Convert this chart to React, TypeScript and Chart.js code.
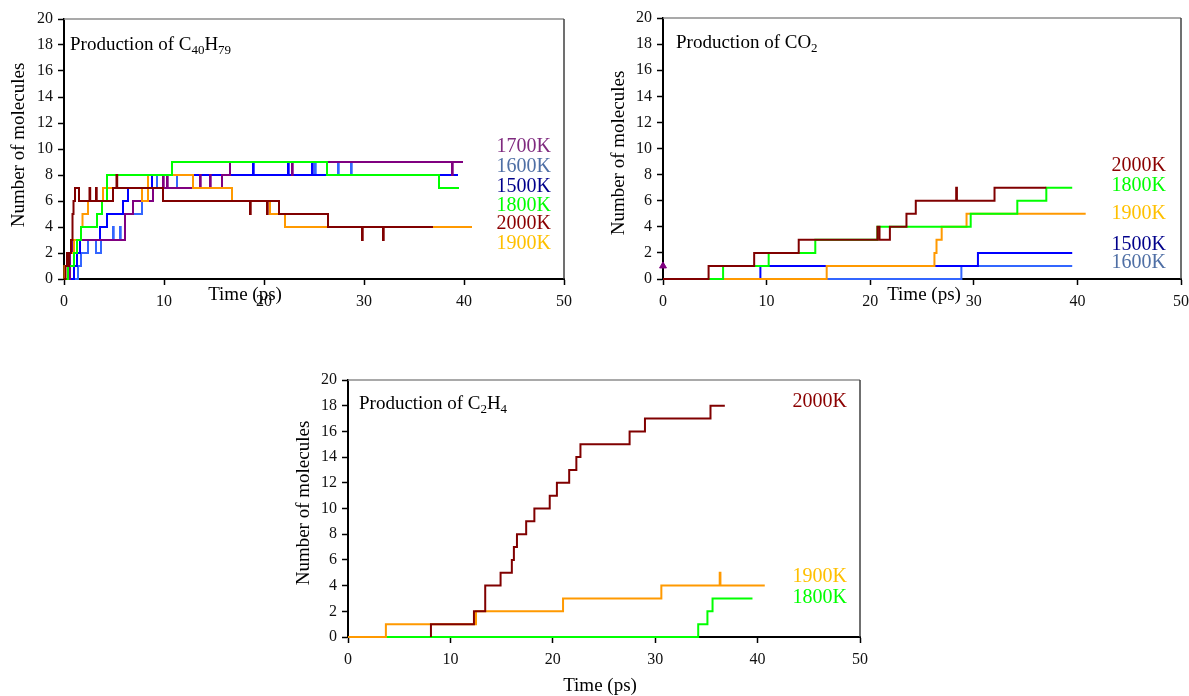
import { useEffect, useRef } from 'react';
import { Chart, registerables } from 'chart.js';

Chart.register(...registerables);

const W = 1189;
const H = 696;
const CW = 1260; // canvas width (wider than the page so right-hand padding never squeezes the plot)
const SERIF = '"Liberation Serif", "Times New Roman", Times, serif';

// ---------- tick labels ----------
const X_TICKS = [0, 10, 20, 30, 40, 50];
const Y_TICKS = [0, 2, 4, 6, 8, 10, 12, 14, 16, 18, 20];

// ---------- Panel 1: Production of C40H79 (time in ps, number of molecules) ----------
const c40_2000K_t = [0, 0.15, 0.3, 0.35, 0.5, 0.7, 0.85, 0.95, 1.1, 1.5, 2.55, 2.62, 3.2, 3.27, 4.9, 5.25, 5.32, 9.9, 18.6, 18.67, 20.3, 20.37, 21.5, 26.4, 29.8, 29.87, 31.9, 31.97, 36.9];
const c40_2000K_n = [0, 1, 2, 1, 2, 3, 5, 6, 7, 6, 7, 6, 7, 6, 7, 8, 7, 6, 5, 6, 5, 6, 5, 4, 3, 4, 3, 4, 4];
const c40_1800K_t = [0, 0.4, 1.0, 1.3, 1.7, 3.3, 3.8, 4.3, 10.8, 26.3, 37.5, 39.5];
const c40_1800K_n = [0, 1, 2, 3, 4, 5, 6, 8, 9, 8, 7, 7];
const c40_1900K_t = [0, 0.05, 0.3, 1.0, 1.7, 1.85, 2.4, 3.9, 7.8, 8.4, 12.9, 16.8, 20.6, 22.1, 40.8];
const c40_1900K_n = [0, 1, 2, 3, 4, 5, 6, 7, 6, 8, 7, 6, 5, 4, 4];
const c40_1700K_t = [0, 0.6, 0.8, 6.1, 6.9, 8.9, 9.9, 9.97, 10.3, 10.37, 13.6, 13.67, 14.6, 14.67, 15.8, 16.6, 22.8, 22.87, 38.8, 38.87, 39.9];
const c40_1700K_n = [0, 2, 3, 5, 6, 7, 8, 7, 8, 7, 8, 7, 8, 7, 8, 9, 8, 9, 8, 9, 9];
const c40_1500K_t = [0, 1.0, 1.3, 1.6, 3.6, 4.3, 5.9, 6.4, 8.8, 18.9, 18.97, 22.4, 22.47, 24.8, 24.87, 39.4];
const c40_1500K_n = [0, 1, 2, 3, 4, 5, 6, 7, 8, 9, 8, 9, 8, 9, 8, 8];
const c40_1600K_t = [0, 1.4, 1.7, 2.4, 3.2, 3.7, 4.9, 4.97, 5.6, 5.67, 6.1, 7.8, 8.9, 9.3, 11.3, 12.9, 25.1, 25.17, 27.4, 27.47, 28.7, 28.77, 39.4];
const c40_1600K_n = [0, 1, 2, 3, 2, 3, 4, 3, 4, 3, 5, 6, 7, 8, 7, 8, 9, 8, 9, 8, 9, 8, 8];

// ---------- Panel 2: Production of CO2 ----------
const co2_2000K_t = [0, 4.4, 8.8, 13.1, 20.7, 20.9, 21.9, 23.5, 24.4, 28.3, 28.37, 32.0, 37.0];
const co2_2000K_n = [0, 1, 2, 3, 4, 3, 4, 5, 6, 7, 6, 7, 7];
const co2_1800K_t = [0, 5.8, 10.2, 14.7, 20.7, 29.7, 34.2, 37.0, 39.5];
const co2_1800K_n = [0, 1, 2, 3, 4, 5, 6, 7, 7];
const co2_1900K_t = [0, 15.8, 26.2, 26.4, 26.9, 29.3, 40.8];
const co2_1900K_n = [0, 1, 2, 3, 4, 5, 5];
const co2_1500K_t = [0, 9.4, 30.4, 39.5];
const co2_1500K_n = [0, 1, 2, 2];
const co2_1600K_t = [0, 28.8, 39.5];
const co2_1600K_n = [0, 1, 1];
const co2_1700K_t = [0];
const co2_1700K_n = [1];

// ---------- Panel 3: Production of C2H4 ----------
const c2h4_2000K_t = [8.1, 8.1, 12.3, 13.4, 14.9, 16.0, 16.2, 16.5, 17.4, 18.2, 19.7, 20.4, 21.6, 22.3, 22.7, 27.5, 29.0, 35.4, 36.8];
const c2h4_2000K_n = [0, 1, 2, 4, 5, 6, 7, 8, 9, 10, 11, 12, 13, 14, 15, 16, 17, 18, 18];
const c2h4_1900K_t = [0, 3.7, 12.5, 21.0, 30.6, 36.3, 36.37, 40.7];
const c2h4_1900K_n = [0, 1, 2, 3, 4, 5, 4, 4];
const c2h4_1800K_t = [0, 34.2, 35.1, 35.6, 39.5];
const c2h4_1800K_n = [0, 1, 2, 3, 3];

// ---------- colours ----------
const LINE = {
  '2000K': '#800000',
  '1900K': '#ff9900',
  '1800K': '#00ff00',
  '1700K': '#800080',
  '1600K': '#3366ff',
  '1500K': '#0000ff',
};
const LABEL = {
  '2000K': '#8b0000',
  '1900K': '#ffc000',
  '1800K': '#00ff00',
  '1700K': '#7f2a7f',
  '1600K': '#4f6fa5',
  '1500K': '#00008b',
};

type Key = keyof typeof LINE;

const pts = (t: number[], n: number[]) => t.map((x, i) => ({ x, y: n[i] }));

const stepSet = (key: Key, t: number[], n: number[]) => ({
  label: key,
  data: pts(t, n),
  borderColor: LINE[key],
  backgroundColor: LINE[key],
  borderWidth: 2,
  pointRadius: 0,
  stepped: 'before' as const,
  fill: false,
  clip: 2,
});

type Part = { t: string; sub?: boolean };
type Panel = {
  L: number; R: number; T: number; B: number;
  title: Part[]; titleX: number; titleY: number;
  labels: { key: Key; y: number }[]; labelX: number;
  xTitle: [number, number]; yTitle: [number, number];
  datasets: any[];
};

const PANELS: Panel[] = [
  {
    L: 64, R: 564, T: 19, B: 279,
    title: [{ t: 'Production of C' }, { t: '40', sub: true }, { t: 'H' }, { t: '79', sub: true }],
    titleX: 70, titleY: 50,
    labels: [
      { key: '1700K', y: 147 }, { key: '1600K', y: 167 }, { key: '1500K', y: 186.5 },
      { key: '1800K', y: 206 }, { key: '2000K', y: 224 }, { key: '1900K', y: 244 },
    ],
    labelX: 551,
    xTitle: [245, 295], yTitle: [19, 145],
    datasets: [
      stepSet('2000K', c40_2000K_t, c40_2000K_n),
      stepSet('1800K', c40_1800K_t, c40_1800K_n),
      stepSet('1900K', c40_1900K_t, c40_1900K_n),
      stepSet('1700K', c40_1700K_t, c40_1700K_n),
      stepSet('1500K', c40_1500K_t, c40_1500K_n),
      stepSet('1600K', c40_1600K_t, c40_1600K_n),
    ],
  },
  {
    L: 663, R: 1181, T: 18, B: 279,
    title: [{ t: 'Production of CO' }, { t: '2', sub: true }],
    titleX: 676, titleY: 48,
    labels: [
      { key: '2000K', y: 165.5 }, { key: '1800K', y: 185.5 }, { key: '1900K', y: 214 },
      { key: '1500K', y: 245 }, { key: '1600K', y: 263 },
    ],
    labelX: 1166,
    xTitle: [924, 295], yTitle: [619, 153],
    datasets: [
      {
        label: '1700K', data: pts(co2_1700K_t, co2_1700K_n), showLine: false,
        pointStyle: 'triangle', pointRadius: 4, borderWidth: 1,
        borderColor: LINE['1700K'], backgroundColor: LINE['1700K'], clip: false,
      },
      stepSet('2000K', co2_2000K_t, co2_2000K_n),
      stepSet('1800K', co2_1800K_t, co2_1800K_n),
      stepSet('1900K', co2_1900K_t, co2_1900K_n),
      stepSet('1500K', co2_1500K_t, co2_1500K_n),
      stepSet('1600K', co2_1600K_t, co2_1600K_n),
    ],
  },
  {
    L: 348, R: 860, T: 380, B: 637,
    title: [{ t: 'Production of C' }, { t: '2', sub: true }, { t: 'H' }, { t: '4', sub: true }],
    titleX: 359, titleY: 409,
    labels: [{ key: '2000K', y: 402 }, { key: '1900K', y: 577 }, { key: '1800K', y: 598 }],
    labelX: 847,
    xTitle: [600, 686], yTitle: [304, 503],
    datasets: [
      stepSet('2000K', c2h4_2000K_t, c2h4_2000K_n),
      stepSet('1900K', c2h4_1900K_t, c2h4_1900K_n),
      stepSet('1800K', c2h4_1800K_t, c2h4_1800K_n),
    ],
  },
];

const YW = 60;
const XH = 50;
const TITLE_PX = 19;
const SUB_PX = 13;

function makeConfig(p: Panel): any {
  const decor = {
    id: 'decor',
    beforeDatasetsDraw(chart: any) {
      const { ctx, chartArea: ca } = chart;
      ctx.save();
      ctx.lineWidth = 1.5;
      ctx.strokeStyle = '#8c8c8c';
      ctx.beginPath();
      ctx.moveTo(ca.left, ca.top);
      ctx.lineTo(ca.right, ca.top);
      ctx.stroke();
      ctx.strokeStyle = '#404040';
      ctx.beginPath();
      ctx.moveTo(ca.right, ca.top);
      ctx.lineTo(ca.right, ca.bottom);
      ctx.stroke();
      ctx.restore();
    },
    afterDraw(chart: any) {
      const ctx: CanvasRenderingContext2D = chart.ctx;
      ctx.save();
      ctx.fillStyle = '#000';
      // panel title with subscripts
      ctx.textAlign = 'left';
      ctx.textBaseline = 'alphabetic';
      let x = p.titleX;
      for (const part of p.title) {
        ctx.font = `${part.sub ? SUB_PX : TITLE_PX}px ${SERIF}`;
        ctx.fillText(part.t, x, p.titleY + (part.sub ? 4 : 0));
        x += ctx.measureText(part.t).width;
      }
      // series labels
      ctx.font = `20px ${SERIF}`;
      ctx.textAlign = 'right';
      ctx.textBaseline = 'middle';
      for (const l of p.labels) {
        ctx.fillStyle = LABEL[l.key];
        ctx.fillText(l.key, p.labelX, l.y);
      }
      // axis titles
      ctx.fillStyle = '#000';
      ctx.font = `19px ${SERIF}`;
      ctx.textAlign = 'center';
      ctx.fillText('Time (ps)', p.xTitle[0], p.xTitle[1]);
      ctx.translate(p.yTitle[0], p.yTitle[1]);
      ctx.rotate(-Math.PI / 2);
      ctx.fillText('Number of molecules', 0, 0);
      ctx.restore();
    },
  };

  const tickFont = { family: SERIF, size: 16 };
  return {
    type: 'line',
    data: { datasets: p.datasets },
    options: {
      animation: false,
      responsive: false,
      maintainAspectRatio: false,
      devicePixelRatio: 1,
      events: [],
      layout: {
        autoPadding: false,
        padding: { left: p.L - YW, top: p.T, right: CW - p.R, bottom: H - p.B - XH },
      },
      plugins: { legend: { display: false }, tooltip: { enabled: false } },
      scales: {
        x: {
          type: 'linear', min: 0, max: 50,
          afterBuildTicks: (s: any) => { s.ticks = X_TICKS.map((v) => ({ value: v })); },
          afterFit: (s: any) => { s.height = XH; },
          ticks: { font: tickFont, color: '#111', padding: 7, maxRotation: 0 },
          grid: { display: true, drawOnChartArea: false, drawTicks: true, tickLength: 6, tickColor: '#000', tickWidth: 1.5 },
          border: { display: true, color: '#000', width: 2 },
        },
        y: {
          type: 'linear', min: 0, max: 20,
          afterBuildTicks: (s: any) => { s.ticks = Y_TICKS.map((v) => ({ value: v })); },
          afterFit: (s: any) => { s.width = YW; },
          ticks: { font: tickFont, color: '#111', padding: 5 },
          grid: { display: true, drawOnChartArea: false, drawTicks: true, tickLength: 6, tickColor: '#000', tickWidth: 1.5 },
          border: { display: true, color: '#000', width: 2 },
        },
      },
    },
    plugins: [decor],
  };
}

function PanelChart({ panel }: { panel: Panel }) {
  const ref = useRef<HTMLCanvasElement>(null);
  useEffect(() => {
    const chart = new Chart(ref.current as HTMLCanvasElement, makeConfig(panel));
    return () => chart.destroy();
  }, [panel]);
  return (
    <canvas
      ref={ref}
      width={CW}
      height={H}
      style={{ position: 'absolute', left: 0, top: 0, width: CW, height: H }}
    />
  );
}

export default function App() {
  return (
    <div style={{ position: 'absolute', left: 0, top: 0, width: W, height: H, background: '#fff', overflow: 'hidden' }}>
      {PANELS.map((p, i) => (
        <PanelChart key={i} panel={p} />
      ))}
    </div>
  );
}
